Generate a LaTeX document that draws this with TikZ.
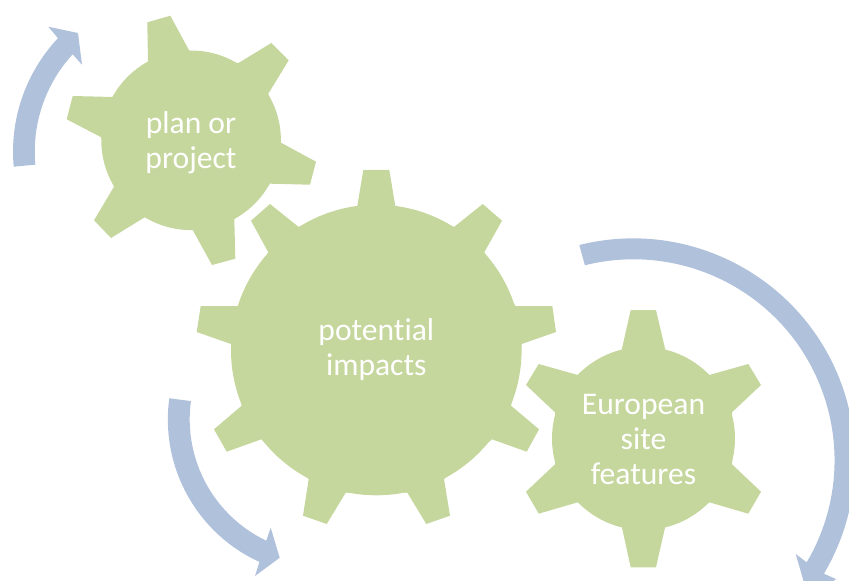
\documentclass[tikz,border=0pt]{standalone}
\usepackage{fontspec}
\setmainfont[Ligatures=NoCommon]{Carlito}
\definecolor{gearc}{HTML}{C5D79D}
\definecolor{arrowc}{HTML}{B0C1DC}
\tikzset{
  gearbody/.style={fill=gearc,draw=none},
  cycarrow/.style={fill=arrowc,draw=none},
  gearlabel/.style={text=white,align=center,inner sep=0pt,font=\fontsize{23.7}{26.2}\selectfont}
}
\begin{document}
\begin{tikzpicture}[x=0.75pt,y=-0.75pt]
\useasboundingbox (0,0) rectangle (849,581);
\clip (0,0) rectangle (849,581);
% arrows (angles are measured clockwise on screen because the y axis is flipped)
\fill[cycarrow] (13.7,166.7) arc[start angle=174.8,end angle=223.2,x radius=165.8*0.75pt,y radius=-165.8*0.75pt]
  -- (48.3,26.7) -- (78,33) -- (82,64.7) -- (72.7,54.3)
  arc[start angle=222.6,end angle=174.8,x radius=143.8*0.75pt,y radius=-143.8*0.75pt] -- cycle;
\fill[cycarrow] (169.3,398.3) arc[start angle=187.8,end angle=114.5,x radius=156.5*0.75pt,y radius=-156.5*0.75pt]
  -- (255,576) -- (279.7,557.7) -- (270.7,527.7) -- (266.3,540.7)
  arc[start angle=115.5,end angle=187.8,x radius=134.5*0.75pt,y radius=-134.5*0.75pt] -- cycle;
\fill[cycarrow] (579.3,245) arc[start angle=-104,end angle=30.7,x radius=222*0.75pt,y radius=-222*0.75pt]
  -- (836,579) -- (809,600) -- (795.7,554) -- (806.7,562.3)
  arc[start angle=30.5,end angle=-104,x radius=201*0.75pt,y radius=-201*0.75pt] -- cycle;
% gear 1
\fill[gearbody] (191.1,140.3) circle[radius=89.8*0.75pt];
\fill[gearbody] (147.3,22.3) -- (170.3,15.7) -- (189.3,50.7) -- (238,63.3) -- (271.3,43) -- (288.7,60.3)
  -- (268.3,93.7) -- (281,142.7) -- (316,161.7) -- (310,184.7) -- (270,183.7) -- (234.3,219)
  -- (235.3,258.7) -- (212,265) -- (192.7,230) -- (144.7,217.3) -- (111,238) -- (94,220.3)
  -- (114,186.7) -- (101.3,137.3) -- (66.7,119.3) -- (72.7,96) -- (112.7,97) -- (148,61.7) -- cycle;
% gear 2
\fill[gearbody] (376.3,350) circle[radius=145.3*0.75pt];
\fill[gearbody] (363.3,170) -- (389.3,170) -- (395.3,206) -- (454,227) -- (482.7,204) -- (502,220.7)
  -- (484.3,252.3) -- (515.3,306) -- (552.3,306) -- (556,332) -- (521.7,344) -- (511,405.7)
  -- (539,429.3) -- (526.7,451.7) -- (492,439.3) -- (444,479) -- (450,515.7) -- (426.3,524)
  -- (407.3,492.7) -- (345.7,492.7) -- (326.7,524) -- (303,515.7) -- (308.7,479) -- (261.3,439.3)
  -- (226.7,451.7) -- (214,429.3) -- (241.7,405.7) -- (231,344) -- (196.7,332) -- (200.7,306)
  -- (238,306) -- (268.3,252.3) -- (251,220.7) -- (270,204) -- (298.7,227) -- (357.3,206) -- cycle;
% gear 3
\fill[gearbody] (643.5,438.5) circle[radius=91.5*0.75pt];
\fill[gearbody] (630.7,310) -- (656,310) -- (665.3,349.7) -- (709.3,375) -- (748.3,364) -- (761,385)
  -- (732,412.3) -- (732,464.3) -- (761,491.7) -- (748.3,513.7) -- (709.3,502.3) -- (665.3,526.3)
  -- (656,567.3) -- (630.7,567.3) -- (621.7,526.3) -- (577.7,502.3) -- (538.7,513.7) -- (526,491.7)
  -- (555,464.3) -- (555,412.3) -- (526,385) -- (538.7,364) -- (577.7,375) -- (621.7,349.7) -- cycle;
% labels
\node[gearlabel] (plan) at (191,142.3) {plan or\\project};
\node[gearlabel] (impacts) at (376.3,349.3) {potential\\impacts};
\node[gearlabel] (site) at (643.5,439.5) {European\\site\\features};
\end{tikzpicture}
\end{document}
